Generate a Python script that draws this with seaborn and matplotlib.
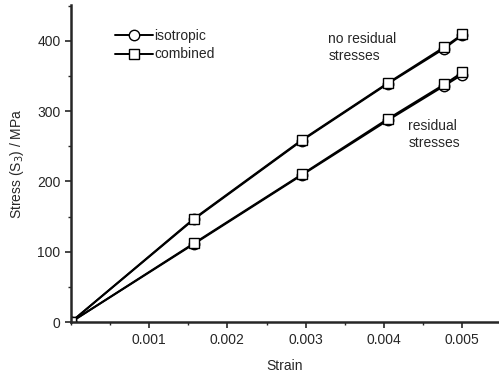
import pandas as pd
import seaborn as sns
import matplotlib.pyplot as plt
from matplotlib.ticker import MultipleLocator
from matplotlib.lines import Line2D

strain = [0.0, 0.00157, 0.00295, 0.00405, 0.00477, 0.00500]

# no residual stresses
iso_nores = [0, 146, 258, 339, 389, 408]
comb_nores = [0, 147, 259, 340, 391, 409]
# residual stresses
iso_res = [0, 111, 209, 287, 336, 352]
comb_res = [0, 112, 210, 289, 338, 355]

rows = []
for model, case, vals in [("isotropic", "no residual", iso_nores),
                          ("combined", "no residual", comb_nores),
                          ("isotropic", "residual", iso_res),
                          ("combined", "residual", comb_res)]:
    for s, v in zip(strain, vals):
        rows.append({"strain": s, "stress": v, "model": model, "case": case + " " + model})
df = pd.DataFrame(rows)

sns.set_style("ticks")
plt.rcParams["font.family"] = ["Liberation Sans", "DejaVu Sans"]
fs = 10

fig = plt.figure(figsize=(4.99, 3.79), dpi=100)
ax = fig.add_axes([0.142, 0.150, 0.858, 0.837])

sns.lineplot(data=df, x="strain", y="stress", style="model", units="case",
             estimator=None, markers={"isotropic": "o", "combined": "s"},
             dashes=False, color="black", linewidth=1.4, markersize=7.5,
             markerfacecolor="white", markeredgecolor="black",
             markeredgewidth=1.0, ax=ax, sort=False, legend=False)

handles = [Line2D([], [], color="black", lw=1.4, marker="o", markersize=7.5,
                  markerfacecolor="white", markeredgecolor="black"),
           Line2D([], [], color="black", lw=1.4, marker="s", markersize=7.5,
                  markerfacecolor="white", markeredgecolor="black")]
ax.legend(handles, ["isotropic", "combined"], loc="upper left",
          bbox_to_anchor=(0.075, 0.965), frameon=False, handlelength=2.7,
          handletextpad=0.1, labelspacing=0.35, fontsize=fs)

ax.text(0.00329, 390, "no residual\nstresses", fontsize=fs, ha="left", va="center",
        linespacing=1.3)
ax.text(0.00431, 267, "residual\nstresses", fontsize=fs, ha="left", va="center",
        linespacing=1.3)

ax.set_xlim(0, 0.00547)
ax.set_ylim(0, 451)
ax.set_xticks([0.001, 0.002, 0.003, 0.004, 0.005])
ax.set_xticklabels(["0.001", "0.002", "0.003", "0.004", "0.005"])
ax.xaxis.set_minor_locator(MultipleLocator(0.0005))
ax.set_yticks([0, 100, 200, 300, 400])
ax.yaxis.set_minor_locator(MultipleLocator(50))
ax.tick_params(which="major", length=4, width=1.2, direction="out", labelsize=fs)
ax.tick_params(which="minor", length=2, width=1.0, direction="out")
for sp in ["left", "bottom"]:
    ax.spines[sp].set_linewidth(1.8)
sns.despine(ax=ax)

ax.set_xlabel("Strain", fontsize=fs, labelpad=9)
ax.set_ylabel("Stress (S$_3$) / MPa", fontsize=fs, labelpad=8)

fig.savefig("out.png", dpi=100)
